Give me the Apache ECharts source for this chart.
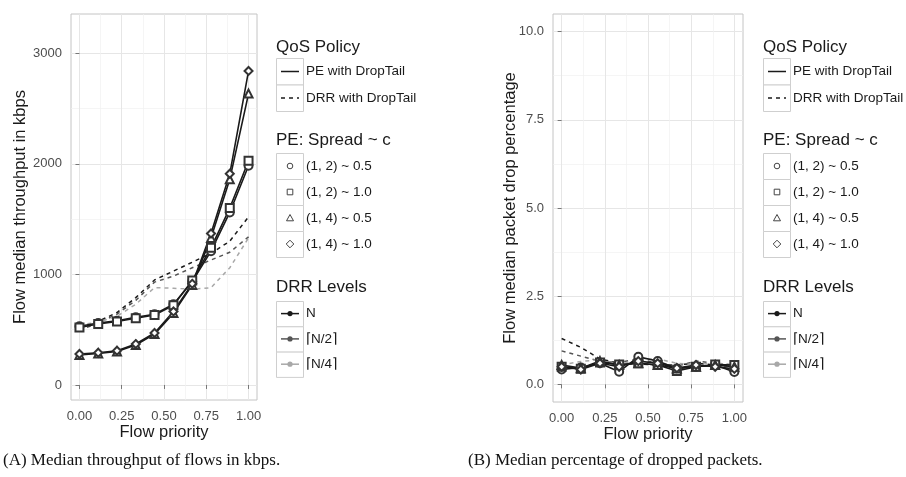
<!DOCTYPE html>
<html>
<head>
<meta charset="utf-8">
<script src="https://cdn.jsdelivr.net/npm/echarts@6/dist/echarts.min.js"></script>
<style>
html,body{margin:0;padding:0;background:#fff;}
#main{width:906px;height:477px;}
</style>
</head>
<body>
<div id="main"></div>
<script>
// flow priority (x) and axis ticks
var priority = [0, 0.111, 0.222, 0.333, 0.444, 0.556, 0.667, 0.778, 0.889, 1];
var xTicks = [0, 0.25, 0.5, 0.75, 1];
var xMinor = [0.125, 0.375, 0.625, 0.875];

// (A) median throughput, kbps
var thrTicks = [0, 1000, 2000, 3000];
var thrMinor = [500, 1500, 2500];
var thrPE12c05 = [531, 560, 580, 612, 640, 730, 935, 1210, 1560, 1982];
var thrPE12c10 = [520, 552, 575, 603, 632, 720, 945, 1240, 1600, 2027];
var thrPE14c05 = [272, 285, 303, 362, 460, 650, 905, 1330, 1860, 2635];
var thrPE14c10 = [280, 291, 310, 370, 470, 665, 915, 1370, 1910, 2840];
var thrDrrN = [510, 575, 655, 790, 950, 1030, 1110, 1190, 1300, 1520];
var thrDrrN2 = [495, 560, 640, 765, 930, 985, 1060, 1130, 1200, 1340];
var thrDrrN4 = [540, 570, 620, 730, 880, 875, 865, 880, 1060, 1330];

// (B) median packet drop percentage
var dropTicks = [0, 2.5, 5, 7.5, 10];
var dropMinor = [1.25, 3.75, 6.25, 8.75];
var dropPE12c05 = [0.42, 0.48, 0.60, 0.36, 0.78, 0.66, 0.45, 0.50, 0.55, 0.35];
var dropPE12c10 = [0.50, 0.44, 0.62, 0.56, 0.60, 0.55, 0.38, 0.50, 0.56, 0.55];
var dropPE14c05 = [0.55, 0.46, 0.66, 0.55, 0.60, 0.55, 0.45, 0.50, 0.55, 0.50];
var dropPE14c10 = [0.50, 0.42, 0.60, 0.50, 0.66, 0.60, 0.46, 0.55, 0.50, 0.44];
var dropDrrN = [1.30, 1.05, 0.72, 0.60, 0.58, 0.55, 0.55, 0.60, 0.55, 0.50];
var dropDrrN2 = [0.95, 0.80, 0.66, 0.62, 0.72, 0.60, 0.52, 0.66, 0.60, 0.55];
var dropDrrN4 = [0.55, 0.65, 0.70, 0.56, 0.70, 0.72, 0.60, 0.55, 0.62, 0.50];

// legend texts
var qosTitle = 'QoS Policy';
var qosNames = ['PE with DropTail', 'DRR with DropTail'];
var spreadTitle = 'PE: Spread ~ c';
var spreadNames = ['(1, 2) ~ 0.5', '(1, 2) ~ 1.0', '(1, 4) ~ 0.5', '(1, 4) ~ 1.0'];
var drrTitle = 'DRR Levels';
var drrNames = ['N', '\u2308N/2\u2309', '\u2308N/4\u2309'];
var drrColors = ['#1a1a1a', '#555555', '#a8a8a8'];
var peSymbols = ['emptyCircle', 'emptyRect', 'emptyTriangle', 'emptyDiamond'];

var fam = '"Liberation Sans", Arial, Helvetica, sans-serif';

function pair(ys) {
  return priority.map(function (x, i) { return [x, ys[i]]; });
}

function peSeries(name, sym, ys, g) {
  return {
    name: name, type: 'line', xAxisIndex: g * 2, yAxisIndex: g * 2,
    data: pair(ys), symbol: sym, symbolSize: 8,
    lineStyle: { color: '#1a1a1a', width: 1.6 },
    itemStyle: { color: '#333', borderWidth: 1.1 },
    z: 4, animation: false
  };
}
function drrSeries(name, color, ys, g) {
  return {
    name: name, type: 'line', xAxisIndex: g * 2, yAxisIndex: g * 2,
    data: pair(ys), showSymbol: false,
    lineStyle: { color: color, width: 1.5, type: [4, 4] },
    z: 3, animation: false
  };
}

function xAxes(g) {
  return [{
    type: 'value', gridIndex: g, min: -0.05, max: 1.05, position: 'bottom',
    axisLine: { show: false },
    axisTick: { show: true, length: 4, lineStyle: { color: '#777' }, customValues: xTicks },
    axisLabel: { customValues: xTicks, formatter: function (v) { return v.toFixed(2); },
      color: '#4d4d4d', fontSize: 13, fontFamily: fam, margin: 10 },
    splitLine: { show: true, lineStyle: { color: '#e6e6e6', width: 1 } },
    name: 'Flow priority', nameLocation: 'middle', nameGap: 24, nameMoveOverlap: false,
    nameTextStyle: { color: '#1a1a1a', fontSize: 16.5, fontFamily: fam }
  }, {
    type: 'value', gridIndex: g, min: -0.05, max: 1.05, position: 'top',
    axisLine: { show: false },
    axisTick: { show: false, customValues: xMinor },
    axisLabel: { show: false, customValues: xMinor },
    splitLine: { show: true, lineStyle: { color: '#f1f1f1', width: 0.7 } }
  }];
}

function yAxes(g, min, max, ticks, minor, dec, name, gap) {
  return [{
    type: 'value', gridIndex: g, min: min, max: max, position: 'left',
    axisLine: { show: false },
    axisTick: { show: true, length: 4, lineStyle: { color: '#777' }, customValues: ticks },
    axisLabel: { customValues: ticks, formatter: function (v) { return v.toFixed(dec); },
      color: '#4d4d4d', fontSize: 13, fontFamily: fam, margin: 9 },
    splitLine: { show: true, lineStyle: { color: '#e6e6e6', width: 1 } },
    name: name, nameLocation: 'middle', nameGap: gap, nameMoveOverlap: false,
    nameTextStyle: { color: '#1a1a1a', fontSize: 16.5, fontFamily: fam }
  }, {
    type: 'value', gridIndex: g, min: min, max: max, position: 'right',
    axisLine: { show: false },
    axisTick: { show: false, customValues: minor },
    axisLabel: { show: false, customValues: minor },
    splitLine: { show: true, lineStyle: { color: '#f1f1f1', width: 0.7 } }
  }];
}

// legend drawn as boxed keys like the ggplot guide
function legendBlock(x0) {
  var els = [];
  var bw = 27;
  function title(t, y) {
    els.push({ type: 'text', x: x0, y: y, z: 10,
      style: { text: t, fontSize: 17, fontFamily: fam, fill: '#1a1a1a', verticalAlign: 'middle' } });
  }
  function label(t, y) {
    els.push({ type: 'text', x: x0 + bw + 3, y: y, z: 10,
      style: { text: t, fontSize: 13.5, fontFamily: fam, fill: '#1a1a1a', verticalAlign: 'middle' } });
  }
  function box(y, h) {
    els.push({ type: 'rect', z: 9, shape: { x: x0 + 0.5, y: y + 0.5, width: bw, height: h },
      style: { fill: '#fff', stroke: '#cfcfcf', lineWidth: 1 } });
  }
  function line(y, color, dash) {
    els.push({ type: 'line', z: 10, shape: { x1: x0 + 5, y1: y, x2: x0 + bw - 4, y2: y },
      style: { stroke: color, lineWidth: 1.5, lineDash: dash || null } });
  }
  // QoS policy
  title(qosTitle, 47);
  qosNames.forEach(function (n, i) {
    var top = 58 + i * 26.5, cy = top + 13.5;
    box(top, 26.5);
    line(cy, '#1a1a1a', i === 1 ? [4, 4] : null);
    label(n, cy);
  });
  // PE spread
  title(spreadTitle, 140);
  spreadNames.forEach(function (n, i) {
    var top = 153 + i * 26, cy = top + 13, cx = x0 + bw / 2 + 0.5;
    box(top, 26);
    var st = { fill: 'none', stroke: '#444', lineWidth: 1 };
    if (i === 0) els.push({ type: 'circle', z: 10, shape: { cx: cx, cy: cy, r: 2.8 }, style: st });
    if (i === 1) els.push({ type: 'rect', z: 10, shape: { x: cx - 2.8, y: cy - 2.8, width: 5.6, height: 5.6 }, style: st });
    if (i === 2) els.push({ type: 'polygon', z: 10, shape: { points: [[cx, cy - 3.5], [cx + 3.5, cy + 2.8], [cx - 3.5, cy + 2.8]] }, style: st });
    if (i === 3) els.push({ type: 'polygon', z: 10, shape: { points: [[cx, cy - 3.8], [cx + 3.8, cy], [cx, cy + 3.8], [cx - 3.8, cy]] }, style: st });
    label(n, cy);
  });
  // DRR levels
  title(drrTitle, 287);
  drrNames.forEach(function (n, i) {
    var top = 301 + i * 25.3, cy = top + 12.6;
    box(top, 25.3);
    line(cy, drrColors[i]);
    els.push({ type: 'circle', z: 11, shape: { cx: x0 + bw / 2 + 0.5, cy: cy, r: 2.6 },
      style: { fill: drrColors[i] } });
    label(n, cy);
  });
  return els;
}

var chart = echarts.init(document.getElementById('main'), null, { renderer: 'canvas' });

var graphics = legendBlock(276).concat(legendBlock(763));
graphics.push({ type: 'text', x: 3, y: 461, style: { text: '(A) Median throughput of flows in kbps.',
  fontSize: 17, fontFamily: '"Liberation Serif", "Times New Roman", serif', fill: '#111', verticalAlign: 'middle' } });
graphics.push({ type: 'text', x: 468, y: 461, style: { text: '(B) Median percentage of dropped packets.',
  fontSize: 17, fontFamily: '"Liberation Serif", "Times New Roman", serif', fill: '#111', verticalAlign: 'middle' } });

chart.setOption({
  backgroundColor: '#fff',
  animation: false,
  grid: [
    { left: 71, top: 14, width: 186, height: 386, show: true, borderColor: '#c4c4c4', borderWidth: 1, backgroundColor: '#fff', outerBoundsMode: 'none' },
    { left: 553, top: 14, width: 190, height: 388, show: true, borderColor: '#c4c4c4', borderWidth: 1, backgroundColor: '#fff', outerBoundsMode: 'none' }
  ],
  xAxis: xAxes(0).concat(xAxes(1)),
  yAxis: yAxes(0, -136, 3355, thrTicks, thrMinor, 0, 'Flow median throughput in kbps', 42)
    .concat(yAxes(1, -0.5, 10.5, dropTicks, dropMinor, 1, 'Flow median packet drop percentage', 34)),
  series: [
    drrSeries('DRR N', drrColors[0], thrDrrN, 0),
    drrSeries('DRR N/2', drrColors[1], thrDrrN2, 0),
    drrSeries('DRR N/4', drrColors[2], thrDrrN4, 0),
    peSeries('PE (1,2) 0.5', peSymbols[0], thrPE12c05, 0),
    peSeries('PE (1,2) 1.0', peSymbols[1], thrPE12c10, 0),
    peSeries('PE (1,4) 0.5', peSymbols[2], thrPE14c05, 0),
    peSeries('PE (1,4) 1.0', peSymbols[3], thrPE14c10, 0),
    drrSeries('DRR N', drrColors[0], dropDrrN, 1),
    drrSeries('DRR N/2', drrColors[1], dropDrrN2, 1),
    drrSeries('DRR N/4', drrColors[2], dropDrrN4, 1),
    peSeries('PE (1,2) 0.5', peSymbols[0], dropPE12c05, 1),
    peSeries('PE (1,2) 1.0', peSymbols[1], dropPE12c10, 1),
    peSeries('PE (1,4) 0.5', peSymbols[2], dropPE14c05, 1),
    peSeries('PE (1,4) 1.0', peSymbols[3], dropPE14c10, 1)
  ],
  graphic: graphics
});
</script>
</body>
</html>
